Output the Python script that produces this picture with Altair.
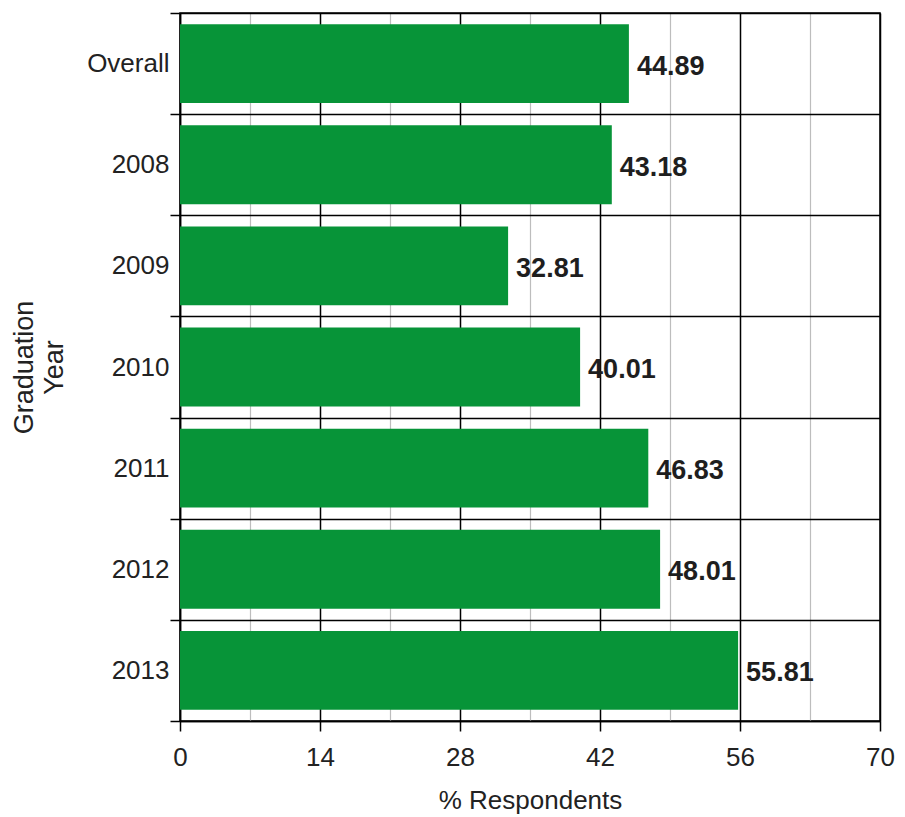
import altair as alt
import pandas as pd

categories = ["Overall", "2008", "2009", "2010", "2011", "2012", "2013"]
values = [44.89, 43.18, 32.81, 40.01, 46.83, 48.01, 55.81]
x_ticks = [0, 7, 14, 21, 28, 35, 42, 49, 56, 63, 70]

df = pd.DataFrame({"year": categories, "pct": values})
df["label"] = df["pct"].map(lambda v: f"{v:.2f}")

font = "Liberation Sans"

x_enc = alt.X(
    "pct:Q",
    scale=alt.Scale(domain=[0, 70], nice=False, zero=True),
    axis=alt.Axis(
        values=x_ticks,
        title="% Respondents",
        titleFont=font,
        titleFontSize=26,
        titleFontWeight="normal",
        titleColor="#222",
        titlePadding=17,
        labelFont=font,
        labelFontSize=26,
        labelColor="#222",
        labelPadding=13,
        labelExpr="datum.value % 14 == 0 ? datum.label : ''",
        labelFlush=False,
        labelOverlap=False,
        domainColor="black",
        domainWidth=1.5,
        tickColor="black",
        tickWidth=1.5,
        tickSize={"condition": {"test": "datum.value % 14 == 0", "value": 10}, "value": 0},
        grid=True,
        gridColor={"condition": {"test": "datum.value % 14 == 0", "value": "black"}, "value": "#bdbdbd"},
        gridWidth={"condition": {"test": "datum.value % 14 == 0", "value": 1.5}, "value": 1.2},
    ),
)

y_enc = alt.Y(
    "year:N",
    sort=categories,
    scale=alt.Scale(paddingInner=0, paddingOuter=0),
    axis=alt.Axis(
        title=["Graduation", "Year"],
        titleFont=font,
        titleFontSize=27,
        titleFontWeight="normal",
        titleColor="#222",
        titlePadding=18,
        titleLineHeight=30,
        labelFont=font,
        labelFontSize=26,
        labelColor="#222",
        labelPadding=1,
        domainColor="black",
        domainWidth=1.5,
        tickBand="extent",
        tickColor="black",
        tickWidth=1.5,
        tickSize=10,
        grid=True,
        gridColor="black",
        gridWidth=1.5,
    ),
)

bars = alt.Chart(df).mark_bar(color="#079438", height={"band": 0.78}).encode(
    x=x_enc, y=y_enc
)

text = alt.Chart(df).mark_text(
    align="left", baseline="middle", dx=8, dy=3,
    font=font, fontSize=27, fontWeight="bold", color="#1e1e1e"
).encode(x="pct:Q", y=alt.Y("year:N", sort=categories), text="label:N")

chart = (
    alt.layer(bars, text)
    .properties(
        width=700,
        height=708,
        autosize=alt.AutoSizeParams(type="none"),
        padding={"left": 172, "top": 5, "right": 16, "bottom": 94},
        background="white",
    )
    .configure_view(stroke="black", strokeWidth=1.5)
)

chart.save("out.html", embed_options={"renderer": "svg", "actions": False})
